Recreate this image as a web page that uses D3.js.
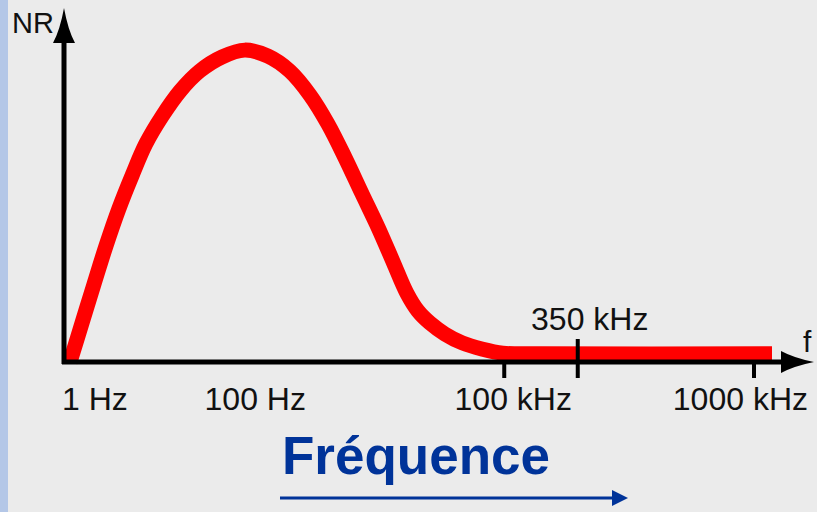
<!DOCTYPE html>
<html>
<head>
<meta charset="utf-8">
<script src="https://cdn.jsdelivr.net/npm/d3@7"></script>
<style>
  html, body { margin: 0; padding: 0; background: #ebebeb; }
  svg { display: block; }
</style>
</head>
<body>
<svg id="chart" width="817" height="512"></svg>
<script>

// Schematic position along the frequency axis (0..100) and NR level (0..100)
var CURVE_POS = [0.8, 2.4, 4.0, 5.6, 7.3, 9.1, 10.9, 13.1, 15.5, 18.1, 21.1, 24.1, 27.2, 30.1, 32.8, 35.2, 37.5, 39.7, 41.9, 43.9, 45.7, 47.2, 48.8, 50.8, 53.1, 55.7, 58.5, 63.5, 94.4];
var CURVE_NR  = [0, 11.0, 22.0, 32.8, 43.2, 52.8, 61.6, 69.5, 76.6, 82.2, 86.2, 88.1, 86.4, 82.2, 75.4, 67.2, 57.6, 47.7, 37.9, 28.2, 19.5, 14.4, 11.0, 7.9, 5.4, 3.7, 2.5, 2.3, 2.3];

// frequency labels under the axis
var FREQ_LABELS = ["1 Hz", "100 Hz", "100 kHz", "1000 kHz"];
var FREQ_POS    = [0, 25.5, 58.7, 92.0];
var FREQ_TICKED = [false, false, true, true];

// marked cut-off frequency
var CUTOFF_LABEL = "350 kHz";
var CUTOFF_POS = 68.5;

var WIDTH = 817, HEIGHT = 512;
var X0 = 64, X1 = 814, Y0 = 362, Y1 = 8;

var svg = d3.select("#chart");

var x = d3.scaleLinear().domain([0, 100]).range([X0, X1]);
var y = d3.scaleLinear().domain([0, 100]).range([Y0, Y1]);

// left accent strip
svg.append("rect")
    .attr("x", 0).attr("y", 0)
    .attr("width", 8).attr("height", HEIGHT)
    .attr("fill", "#b4c7e7");

// red curve
var points = CURVE_POS.map(function(p, i) { return [p, CURVE_NR[i]]; });

var line = d3.line()
    .x(function(d) { return x(d[0]); })
    .y(function(d) { return y(d[1]); })
    .curve(d3.curveCatmullRom.alpha(0.5));

svg.append("path")
    .datum(points)
    .attr("d", line)
    .attr("fill", "none")
    .attr("stroke", "#ff0000")
    .attr("stroke-width", 15)
    .attr("stroke-linecap", "butt")
    .attr("stroke-linejoin", "round");

// axes
svg.append("line")
    .attr("x1", x(0)).attr("y1", y(0) + 2)
    .attr("x2", x(0)).attr("y2", y(100) + 30)
    .attr("stroke", "black").attr("stroke-width", 5);

svg.append("line")
    .attr("x1", x(0) - 2).attr("y1", y(0))
    .attr("x2", x(100) - 28).attr("y2", y(0))
    .attr("stroke", "black").attr("stroke-width", 5);

// arrowheads (slightly concave sides)
var ax = x(0), ay = y(100);
svg.append("path")
    .attr("d", "M" + ax + "," + ay +
               " Q" + (ax - 4) + "," + (ay + 22) + " " + (ax - 11) + "," + (ay + 35) +
               " L" + (ax + 11) + "," + (ay + 35) +
               " Q" + (ax + 4) + "," + (ay + 22) + " " + ax + "," + ay + "Z")
    .attr("fill", "black");

var bx = x(100), by = y(0);
svg.append("path")
    .attr("d", "M" + bx + "," + by +
               " Q" + (bx - 20) + "," + (by - 4) + " " + (bx - 33) + "," + (by - 11) +
               " L" + (bx - 33) + "," + (by + 11) +
               " Q" + (bx - 20) + "," + (by + 4) + " " + bx + "," + by + "Z")
    .attr("fill", "black");

// tick marks
FREQ_POS.forEach(function(p, i) {
  if (!FREQ_TICKED[i]) return;
  svg.append("line")
      .attr("x1", x(p)).attr("y1", y(0))
      .attr("x2", x(p)).attr("y2", y(0) + 16)
      .attr("stroke", "black").attr("stroke-width", 4);
});

svg.append("line")
    .attr("x1", x(CUTOFF_POS)).attr("y1", y(0) - 23)
    .attr("x2", x(CUTOFF_POS)).attr("y2", y(0) + 16)
    .attr("stroke", "black").attr("stroke-width", 4);

// labels
var FONT = "Liberation Sans, Arial, Helvetica, sans-serif";

svg.selectAll(".freq")
    .data(FREQ_LABELS)
    .enter().append("text")
    .attr("class", "freq")
    .attr("x", function(d, i) {
      if (i == 0) return x(FREQ_POS[i]) - 2;
      if (i == 2) return x(FREQ_POS[i]) + 9;
      if (i == 3) return x(100) - 6;
      return x(FREQ_POS[i]);
    })
    .attr("y", 410)
    .attr("text-anchor", function(d, i) {
      if (i == 0) return "start";
      if (i == 3) return "end";
      return "middle";
    })
    .attr("font-family", FONT)
    .attr("font-size", "32px")
    .attr("fill", "#111")
    .text(function(d) { return d; });

svg.append("text")
    .attr("x", x(CUTOFF_POS) + 12)
    .attr("y", 330)
    .attr("text-anchor", "middle")
    .attr("font-family", FONT)
    .attr("font-size", "32px")
    .attr("fill", "#111")
    .text(CUTOFF_LABEL);

svg.append("text")
    .attr("x", 12).attr("y", 33)
    .attr("font-family", FONT)
    .attr("font-size", "29px")
    .attr("fill", "#111")
    .text("NR");

svg.append("text")
    .attr("x", 803).attr("y", 352)
    .attr("font-family", FONT)
    .attr("font-size", "30px")
    .attr("fill", "#111")
    .text("f");

// bottom title with arrow
svg.append("text")
    .attr("x", 282).attr("y", 474)
    .attr("font-family", FONT)
    .attr("font-size", "53px")
    .attr("font-weight", "bold")
    .attr("fill", "#003399")
    .text("Fréquence");

svg.append("line")
    .attr("x1", 280).attr("y1", 498)
    .attr("x2", 616).attr("y2", 498)
    .attr("stroke", "#003399").attr("stroke-width", 3);

svg.append("path")
    .attr("d", "M628,498 L612,490 L612,506 Z")
    .attr("fill", "#003399");

</script>
</body>
</html>
